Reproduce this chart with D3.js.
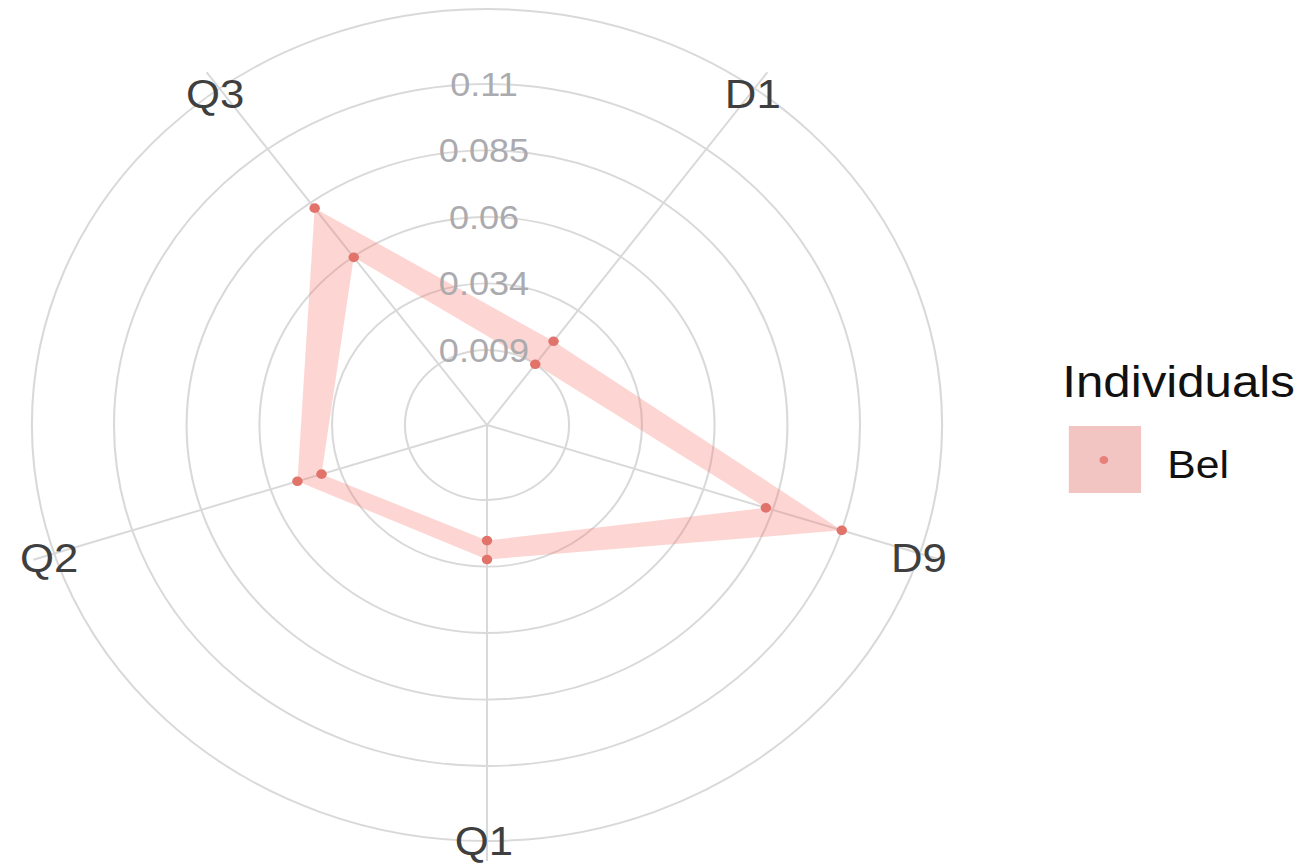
<!DOCTYPE html>
<html><head><meta charset="utf-8">
<script src="https://cdn.jsdelivr.net/npm/d3@7"></script>
<style>body{margin:0;background:#fff;} svg{display:block;}</style>
</head><body>
<svg id="chart" width="1302" height="865"></svg>
<script>
const categories = ["D1", "D9", "Q1", "Q2", "Q3"];
const lowerValues = [0.0085, 0.0818, 0.0239, 0.0404, 0.0587];
const upperValues = [0.0193, 0.1095, 0.0311, 0.0492, 0.0818];
const gridValues = [0.0085, 0.0338, 0.059, 0.0843, 0.1095];
const gridLabels = ["0.009", "0.034", "0.06", "0.085", "0.11"];
const seriesName = "Bel";
const legendTitle = "Individuals";

const svg = d3.select("#chart");
svg.append("rect").attr("width", 1302).attr("height", 865).attr("fill", "#fff");

const sx = 1.094;           // horizontal stretch of the picture
const cx = 487, cy = 425;
const outerR = 416;
const font = "'Liberation Sans', Arial, sans-serif";
const r = d3.scaleLinear().domain([-0.02, 0.138]).range([0, outerR]);
const angle = d3.scalePoint().domain(categories).range([36, 324]);
const rad = c => angle(c) * Math.PI / 180;
const gridColor = "#D9D9D9";

const g = svg.append("g").attr("transform", `translate(${cx},${cy}) scale(${sx},1)`);

// grid circles (value circles + outer circle)
g.selectAll("circle.grid")
  .data(gridValues.concat([r.domain()[1]]))
  .join("circle")
  .attr("class", "grid")
  .attr("r", d => r(d))
  .attr("fill", "none")
  .attr("stroke", gridColor)
  .attr("stroke-width", 1.9);

// spokes
g.selectAll("line.spoke")
  .data(categories)
  .join("line")
  .attr("class", "spoke")
  .attr("x1", 0).attr("y1", 0)
  .attr("x2", c => d3.pointRadial(rad(c), 436)[0])
  .attr("y2", c => d3.pointRadial(rad(c), 436)[1])
  .attr("stroke", gridColor)
  .attr("stroke-width", 1.9);

// band between lower and upper polygons
const radial = d3.lineRadial()
  .angle((d, i) => rad(categories[i]))
  .radius(d => r(d))
  .curve(d3.curveLinearClosed);

g.append("path")
  .attr("d", radial(upperValues) + radial(lowerValues))
  .attr("fill", "#F8766D")
  .attr("fill-opacity", 0.3)
  .attr("fill-rule", "evenodd");

// points
const pts = [];
categories.forEach((c, i) => {
  pts.push({c, v: lowerValues[i]});
  pts.push({c, v: upperValues[i]});
});
g.selectAll("circle.pt")
  .data(pts)
  .join("circle")
  .attr("class", "pt")
  .attr("cx", d => d3.pointRadial(rad(d.c), r(d.v))[0])
  .attr("cy", d => d3.pointRadial(rad(d.c), r(d.v))[1])
  .attr("r", 4.8)
  .attr("fill", "#E2736B");

// radial value labels
g.selectAll("text.rl")
  .data(gridValues)
  .join("text")
  .attr("class", "rl")
  .attr("x", -3 / sx)
  .attr("y", d => -r(d))
  .attr("dy", "0.36em")
  .attr("text-anchor", "middle")
  .attr("font-family", font)
  .attr("font-size", 33)
  .attr("fill", "#ABABAF")
  .text((d, i) => gridLabels[i]);

// category labels (kept inside the bottom edge)
g.selectAll("text.cl")
  .data(categories)
  .join("text")
  .attr("class", "cl")
  .attr("x", c => d3.pointRadial(rad(c), 418)[0] - 3 / sx)
  .attr("y", c => Math.min(d3.pointRadial(rad(c), 415)[1] + 4, 865 - cy - 24))
  .attr("dy", "0.36em")
  .attr("text-anchor", "middle")
  .attr("font-family", font)
  .attr("font-size", 40)
  .attr("fill", "#3F3F3F")
  .text(c => c);

// legend
const lg = svg.append("g").attr("transform", `scale(${sx},1)`);
lg.append("text")
  .attr("x", 971).attr("y", 397)
  .attr("font-family", font)
  .attr("font-size", 45)
  .attr("fill", "#111")
  .text(legendTitle);
lg.append("rect")
  .attr("x", 977).attr("y", 426)
  .attr("width", 66).attr("height", 67)
  .attr("fill", "#F2C4C2");
lg.append("circle")
  .attr("cx", 1009).attr("cy", 460)
  .attr("r", 4)
  .attr("fill", "#E8807A");
lg.append("text")
  .attr("x", 1067).attr("y", 478)
  .attr("font-family", font)
  .attr("font-size", 39)
  .attr("fill", "#111")
  .text(seriesName);
</script>
</body></html>
